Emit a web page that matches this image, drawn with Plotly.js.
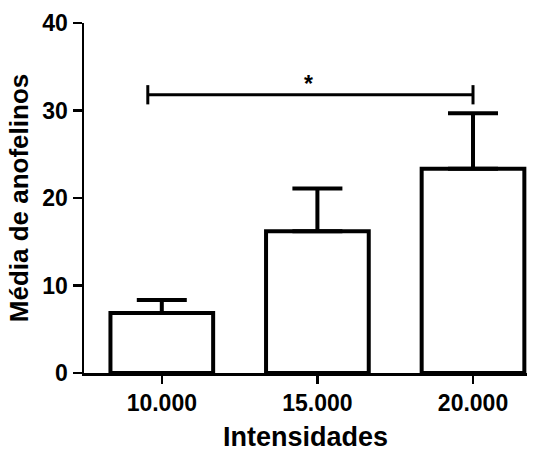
<!DOCTYPE html>
<html>
<head>
<meta charset="utf-8">
<script src="https://cdn.plot.ly/plotly-3.0.1.min.js"></script>
<style>html,body{margin:0;padding:0;background:#fff;}#chart{width:540px;height:455px;}</style>
</head>
<body>
<div id="chart"></div>
<script>
// Data
const categories = ["10.000", "15.000", "20.000"];
const means = [6.85, 16.2, 23.35];
const errPlus = [1.5, 4.9, 6.35];
const errMinus = [0, 0, 0];
const yTicks = [0, 10, 20, 30, 40];
// significance bracket (in data coordinates) and its label
const bracketX = [-0.09, 2];
const bracketY = 31.8;
const bracketLabel = "*";

const FONT = "Liberation Sans, Arial, Helvetica, sans-serif";

const trace = {
  type: "bar",
  x: [0, 1, 2],
  y: means,
  width: 0.66,
  marker: { color: "#ffffff", line: { color: "#000000", width: 4 } },
  error_y: {
    type: "data", symmetric: false, array: errPlus, arrayminus: errMinus,
    color: "#000000", thickness: 4, width: 25
  },
  hoverinfo: "skip",
  showlegend: false
};

const shapes = [
  { type: "line", xref: "x", yref: "y", x0: bracketX[0], x1: bracketX[1], y0: bracketY, y1: bracketY,
    line: { color: "#000", width: 3 } },
  { type: "line", xref: "x", yref: "y", x0: bracketX[0], x1: bracketX[0], y0: bracketY - 1.1, y1: bracketY + 1.1,
    line: { color: "#000", width: 3 } },
  { type: "line", xref: "x", yref: "y", x0: bracketX[1], x1: bracketX[1], y0: bracketY - 1.1, y1: bracketY + 1.1,
    line: { color: "#000", width: 3 } }
];

const layout = {
  width: 540, height: 455,
  margin: { l: 84, r: 13, t: 23, b: 82, pad: 0 },
  paper_bgcolor: "#fff", plot_bgcolor: "#fff",
  font: { family: FONT, color: "#000" },
  xaxis: {
    range: [-0.5, 2.347],
    tickmode: "array", tickvals: [0, 1, 2], ticktext: categories,
    showline: true, linecolor: "#000", linewidth: 2.5,
    ticks: "outside", ticklen: 8, tickwidth: 2.5, tickcolor: "#000",
    tickfont: { family: FONT, size: 23, weight: "bold", color: "#000" },
    showgrid: false, zeroline: false, fixedrange: true,
    title: { text: "Intensidades", font: { family: FONT, size: 27, weight: "bold", color: "#000" }, standoff: 12 }
  },
  yaxis: {
    range: [0, 40],
    tickmode: "array", tickvals: yTicks, ticktext: yTicks.map(String),
    showline: true, linecolor: "#000", linewidth: 2.5,
    ticks: "outside", ticklen: 9, tickwidth: 2.5, tickcolor: "#000",
    tickfont: { family: FONT, size: 23, weight: "bold", color: "#000" },
    showgrid: false, zeroline: false, fixedrange: true,
    title: { text: "Média de anofelinos", font: { family: FONT, size: 26, weight: "bold", color: "#000" }, standoff: 6 }
  },
  shapes: shapes,
  annotations: [
    { xref: "x", yref: "y", x: 0.94, y: bracketY, text: bracketLabel,
      showarrow: false, xanchor: "center", yanchor: "bottom", yshift: -4,
      font: { family: FONT, size: 23, weight: "bold", color: "#000" } }
  ]
};

Plotly.newPlot("chart", [trace], layout, { displayModeBar: false, staticPlot: true });
</script>
</body>
</html>
